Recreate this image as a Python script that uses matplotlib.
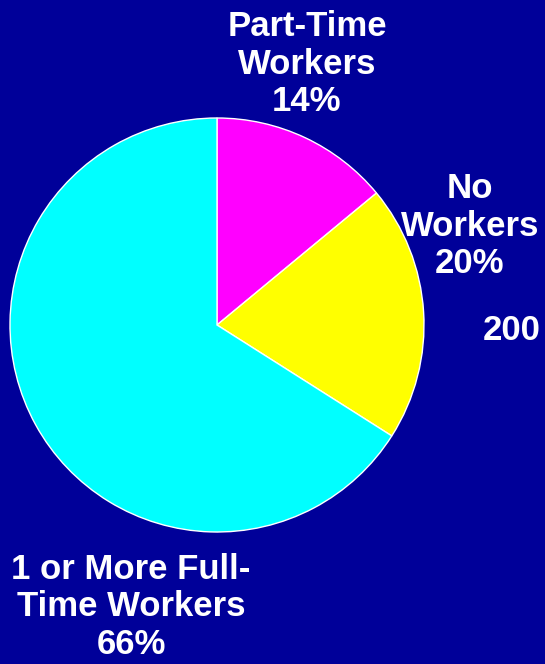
import matplotlib
matplotlib.use('Agg')
import matplotlib.pyplot as plt

labels = ['Part-Time\nWorkers\n14%', 'No\nWorkers\n20%', '1 or More Full-\nTime Workers\n66%']
shares = [14, 20, 66]
colors = ['#ff00ff', '#ffff00', '#00ffff']
year_text = '200'
bg = '#000099'

W, H = 545, 664
fig = plt.figure(figsize=(W / 100, H / 100), dpi=100, facecolor=bg)
ax = fig.add_axes([0, 0, 1, 1])
ax.set_facecolor(bg)

ax.pie(shares, colors=colors, startangle=90, counterclock=False,
       center=(217, H - 325), radius=207, frame=True,
       wedgeprops=dict(edgecolor='white', linewidth=1))
ax.set_xlim(0, W)
ax.set_ylim(0, H)
ax.set_aspect('equal')
ax.axis('off')

font = dict(color='white', fontsize=25, fontweight='bold', family='Liberation Sans',
            ha='center', va='center', multialignment='center', linespacing=1.18)
ax.text(307, H - 64, labels[0], **font)
ax.text(470, H - 226, labels[1], **font)
ax.text(131, H - 607, labels[2], **font)
ax.text(483, H - 330, year_text, color='white', fontsize=25, fontweight='bold',
        family='Liberation Sans', ha='left', va='center')

fig.savefig('out.png', dpi=100, facecolor=bg)
